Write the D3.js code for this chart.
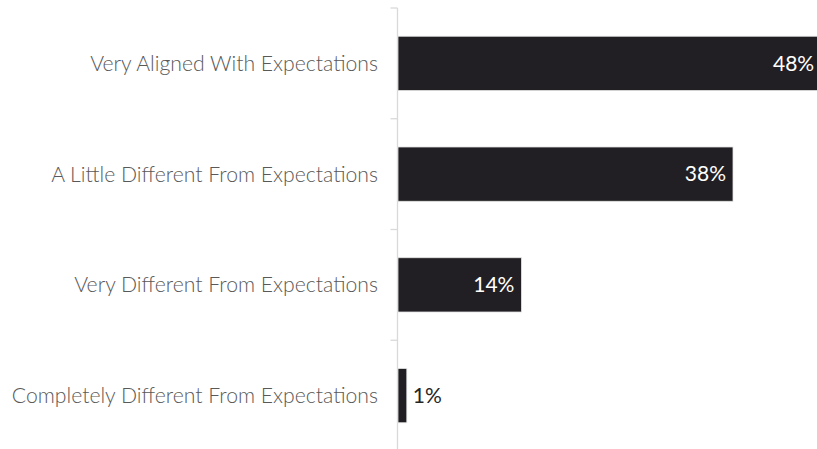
<!DOCTYPE html>
<html>
<head>
<meta charset="utf-8">
<script src="https://cdn.jsdelivr.net/npm/d3@7"></script>
<style>
  html, body { margin: 0; padding: 0; background: #ffffff; }
  svg { display: block; }
</style>
</head>
<body>
<svg id="chart" width="817" height="449"></svg>
<script>
// Survey responses: how closely the experience matched expectations
const categories = [
  "Very Aligned With Expectations",
  "A Little Different From Expectations",
  "Very Different From Expectations",
  "Completely Different From Expectations"
];
const shares = [48, 38, 14, 1];
const valueLabels = ["48%", "38%", "14%", "1%"];

const svg = d3.select("#chart");
const axisX = 397.5;

const x = d3.scaleLinear().domain([0, 38]).range([398, 733]);
const y = d3.scaleBand().domain(categories).range([8, 451]).paddingInner(0.51).paddingOuter(0.255);

// Category axis: light gray rule with outward ticks at band boundaries
const axisG = svg.append("g").attr("transform", `translate(${axisX},0)`);
axisG.append("line")
  .attr("x1", 0).attr("x2", 0).attr("y1", 8).attr("y2", 451)
  .attr("stroke", "#d9d9d9").attr("stroke-width", 1.3);
const step = y.step();
const bounds = d3.range(categories.length).map(i => 8 + i * step);
axisG.selectAll("line.tick").data(bounds).enter().append("line")
  .attr("class", "tick")
  .attr("x1", -7).attr("x2", 0)
  .attr("y1", d => d).attr("y2", d => d)
  .attr("stroke", "#d9d9d9").attr("stroke-width", 1.3);

// Bars
svg.append("g").selectAll("rect").data(categories).enter().append("rect")
  .attr("x", x(0))
  .attr("y", d => y(d))
  .attr("width", (d, i) => x(shares[i]) - x(0))
  .attr("height", y.bandwidth())
  .attr("fill", "#221f24")
  .attr("stroke", "#e4e4e4")
  .attr("stroke-width", 0.8);

// Category labels
svg.append("g").selectAll("text").data(categories).enter().append("text")
  .attr("x", 378)
  .attr("y", d => y(d) + y.bandwidth() / 2)
  .attr("dy", "0.35em")
  .attr("text-anchor", "end")
  .attr("font-family", "Lato, sans-serif")
  .attr("font-weight", 300)
  .attr("font-size", 21.2)
  .attr("fill", "#595959")
  .text(d => d);

// Value labels: inside the bar end when it fits, outside otherwise
svg.append("g").selectAll("text").data(categories).enter().append("text")
  .each(function (d, i) {
    const inside = shares[i] >= 5;
    d3.select(this)
      .attr("x", inside ? x(shares[i]) - 7 : x(shares[i]) + 6)
      .attr("text-anchor", inside ? "end" : "start")
      .attr("fill", inside ? "#ffffff" : "#262626");
  })
  .attr("y", d => y(d) + y.bandwidth() / 2)
  .attr("dy", "0.35em")
  .attr("font-family", "Lato, sans-serif")
  .attr("font-size", 21)
  .text((d, i) => valueLabels[i]);
</script>
</body>
</html>
